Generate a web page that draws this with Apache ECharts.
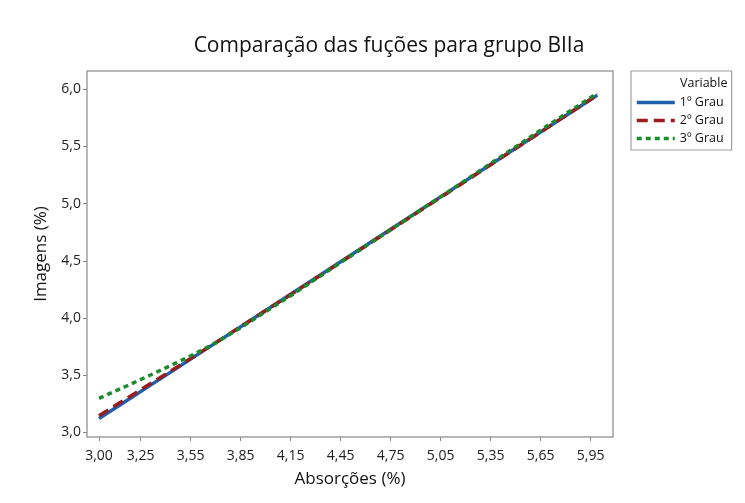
<!DOCTYPE html>
<html><head><meta charset="utf-8">
<script src="https://cdn.jsdelivr.net/npm/echarts@6/dist/echarts.min.js"></script>
<style>html,body{margin:0;padding:0;background:#fff}#c{width:745px;height:503px}</style>
</head><body><div id="c"></div>
<script>
var title = 'Comparação das fuções para grupo BIIa';
var xName = 'Absorções (%)';
var yName = 'Imagens (%)';
var legendTitle = 'Variable';
var seriesNames = ['1º Grau', '2º Grau', '3º Grau'];
var xTicks = [3.00, 3.25, 3.55, 3.85, 4.15, 4.45, 4.75, 5.05, 5.35, 5.65, 5.95];
var yTicks = [3.0, 3.5, 4.0, 4.5, 5.0, 5.5, 6.0];
var xValues = [3.00, 3.10, 3.20, 3.30, 3.40, 3.50, 3.60, 3.70, 3.85, 4.15, 4.45, 4.75, 5.05, 5.35, 5.65, 5.95, 5.99];
var grau1 = [3.120, 3.215, 3.309, 3.404, 3.498, 3.593, 3.688, 3.782, 3.924, 4.208, 4.492, 4.776, 5.059, 5.343, 5.627, 5.911, 5.949];
var grau2 = [3.145, 3.236, 3.327, 3.418, 3.508, 3.600, 3.692, 3.784, 3.924, 4.205, 4.487, 4.771, 5.055, 5.340, 5.626, 5.912, 5.950];
var grau3 = [3.297, 3.362, 3.428, 3.495, 3.563, 3.633, 3.706, 3.782, 3.915, 4.195, 4.485, 4.772, 5.060, 5.352, 5.643, 5.928, 5.966];

function pairs(ys){ return xValues.map(function(x,i){ return [x, ys[i]]; }); }
var FONT = '"Open Sans", "Noto Sans", sans-serif';
var chart = echarts.init(document.getElementById('c'), null, {renderer:'canvas'});
chart.setOption({
  animation: false,
  backgroundColor: '#fff',
  textStyle: {fontFamily: FONT},
  title: {text: title, left: 384, textAlign: 'center', top: 31,
    textStyle: {fontSize: 21, fontWeight: 'normal', color: '#111', fontFamily: FONT}},
  grid: {left: 87, top: 71, right: 132, bottom: 66, show: true, borderColor: '#a0a0a0', borderWidth: 1.5, backgroundColor: '#fff'},
  legend: {
    orient: 'vertical', left: 631, top: 71, width: 108,
    padding: [25, 8, 5, 4], itemGap: 5, itemWidth: 38, itemHeight: 13,
    borderColor: '#a0a0a0', borderWidth: 1.2,
    itemStyle: {opacity: 0},
    lineStyle: {width: 3.5},
    textStyle: {fontSize: 12.5, color: '#111', fontFamily: FONT},
    data: seriesNames
  },
  graphic: [{type: 'text', left: 680, top: 77, style: {text: legendTitle, fontSize: 12.5, fill: '#111', fontFamily: FONT}}],
  xAxis: {
    type: 'value', min: 2.928, max: 6.084,
    name: xName, nameLocation: 'middle', nameGap: 34,
    nameTextStyle: {fontSize: 17, color: '#111', fontFamily: FONT},
    axisLine: {show: false},
    axisTick: {show: true, length: 4, customValues: xTicks, lineStyle: {color: '#888'}},
    axisLabel: {customValues: xTicks, margin: 12, fontSize: 14, color: '#222', fontFamily: FONT,
      formatter: function(v){ return v.toFixed(2).replace('.', ','); }},
    splitLine: {show: false}
  },
  yAxis: {
    type: 'value', min: 2.959, max: 6.16,
    name: yName, nameLocation: 'middle', nameGap: 37, nameRotate: 90,
    nameTextStyle: {fontSize: 17, color: '#111', fontFamily: FONT},
    axisLine: {show: false},
    axisTick: {show: true, length: 4, customValues: yTicks, lineStyle: {color: '#888'}},
    axisLabel: {customValues: yTicks, margin: 6, fontSize: 14, color: '#222', fontFamily: FONT,
      formatter: function(v){ return v.toFixed(1).replace('.', ','); }},
    splitLine: {show: false}
  },
  series: [
    {name: seriesNames[0], type: 'line', data: pairs(grau1), showSymbol: false, symbol: 'none',
      color: '#1f5fae', lineStyle: {width: 3.5, color: '#1f5fae', type: 'solid'}},
    {name: seriesNames[1], type: 'line', data: pairs(grau2), showSymbol: false, symbol: 'none',
      color: '#9a1c1c', lineStyle: {width: 3.5, color: '#9a1c1c', type: [11, 6]}},
    {name: seriesNames[2], type: 'line', data: pairs(grau3), showSymbol: false, symbol: 'none',
      color: '#1a8c2e', lineStyle: {width: 3.5, color: '#1a8c2e', type: [5, 4]}}
  ]
});
</script></body></html>
